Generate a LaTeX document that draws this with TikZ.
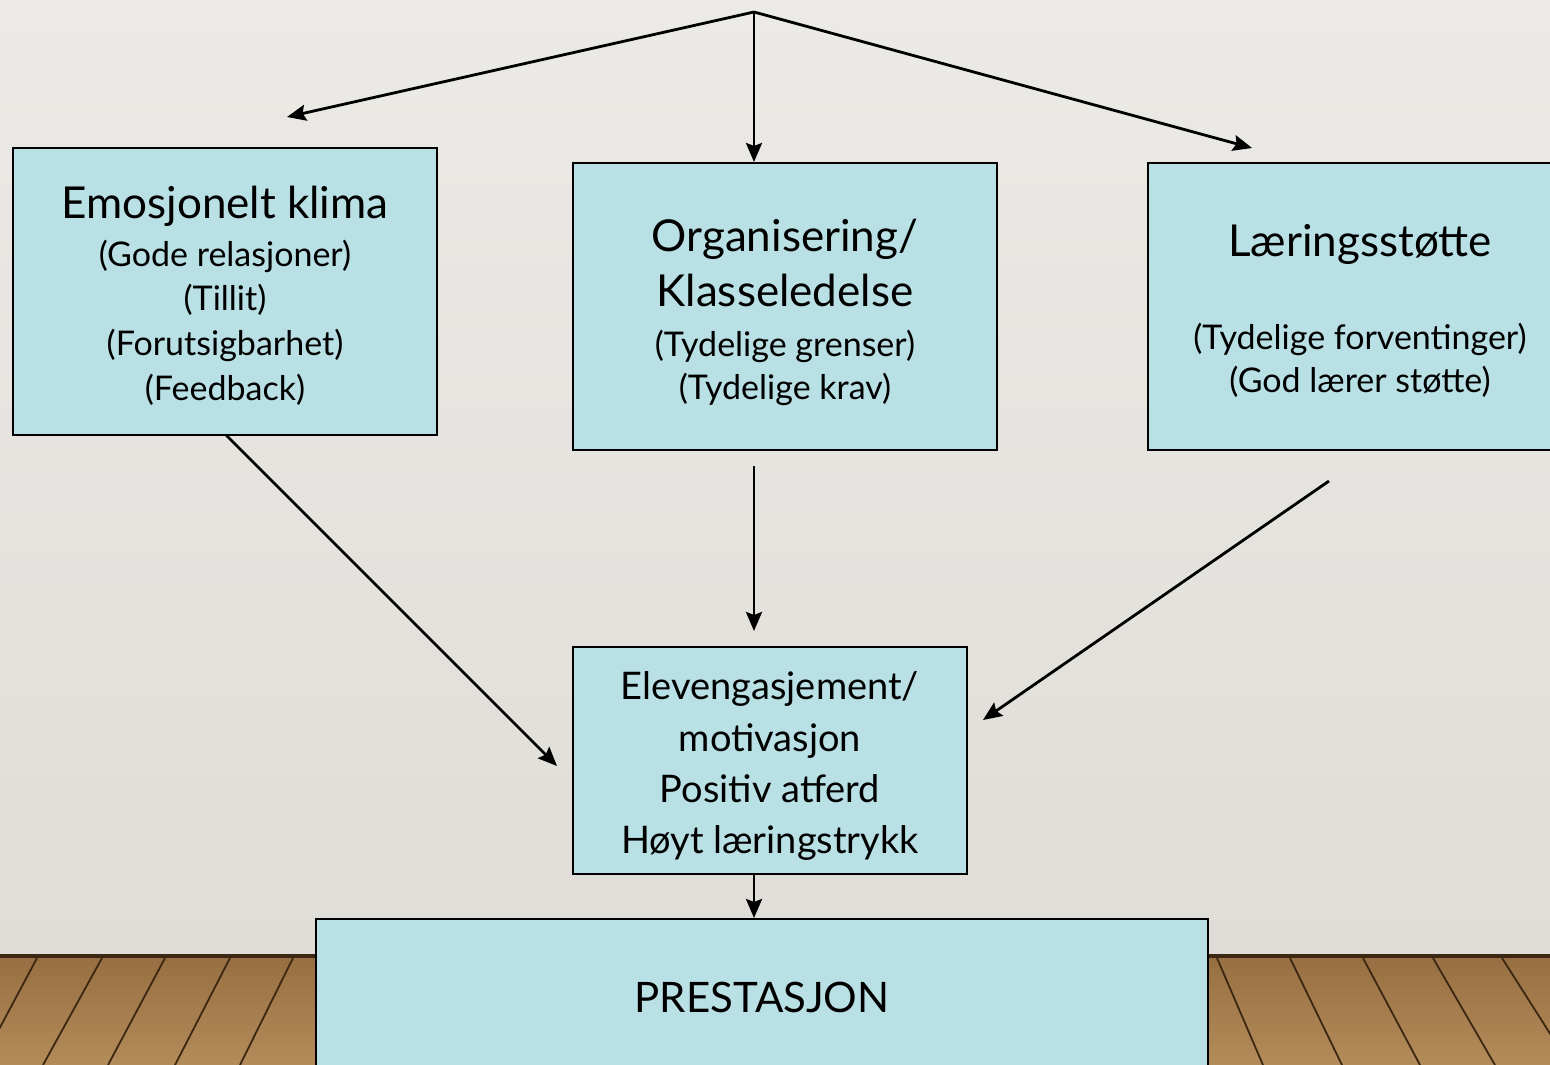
\documentclass[tikz,border=0pt]{standalone}
\usepackage{fontspec}
\setmainfont{Lato}
\usetikzlibrary{arrows.meta}
\definecolor{wallA}{RGB}{235,234,230}
\definecolor{wallB}{RGB}{224,221,216}
\definecolor{boxfill}{RGB}{185,224,228}
\definecolor{woodA}{RGB}{180,140,90}
\definecolor{woodB}{RGB}{150,110,65}
\definecolor{plank}{RGB}{60,40,18}
\tikzset{
  box/.style={draw=black, line width=1.5pt, fill=boxfill, inner sep=0pt},
  arr/.style={line width=2.8pt, -{Stealth[length=19pt,width=16pt,inset=3pt]}},
  big/.style={anchor=base, inner sep=0pt, font=\fontsize{44}{52}\selectfont},
  mid/.style={anchor=base, inner sep=0pt, font=\fontsize{38}{45}\selectfont},
  pbig/.style={anchor=base, inner sep=0pt, font=\fontsize{42}{50}\selectfont},
  sub/.style={anchor=base, inner sep=0pt, font=\fontsize{34}{40}\selectfont},
  plankline/.style={draw=plank, line width=1.8pt},
}
\begin{document}
\begin{tikzpicture}[x=1pt,y=-1pt]
\useasboundingbox (0,0) rectangle (1550,1065);
% wall
\shade[top color=wallA, bottom color=wallB] (0,0) rectangle (1550,955);
% floor
\shade[top color=woodB, bottom color=woodA] (0,955) rectangle (1550,1065);
\fill[plank] (0,954) rectangle (1550,958);
\foreach \a/\b in {37/-20,102/43,165/108,230/175,293/240}{
  \draw[plankline] (\a,958) -- (\b,1065);}
\foreach \a/\b in {1217/1263,1290/1342,1363/1420,1433/1495,1502/1570}{
  \draw[plankline] (\a,958) -- (\b,1065);}

% boxes
\node[box, minimum width=424pt, minimum height=287pt] (emo) at (225,291.5) {};
\node[box, minimum width=424pt, minimum height=287pt] (org) at (785,306.5) {};
\node[box, minimum width=420pt, minimum height=287pt] (lae) at (1358,306.5) {};
\node[box, minimum width=394pt, minimum height=227pt] (elev) at (770,760.5) {};
\node[box, minimum width=892pt, minimum height=160pt] (pres) at (762,999) {};

% texts
\node[big] (t1) at (225,218) {Emosjonelt klima};
\node[sub] (t2) at (225,266) {(Gode relasjoner)};
\node[sub] (t3) at (225,310) {(Tillit)};
\node[sub] (t4) at (225,355) {(Forutsigbarhet)};
\node[sub] (t5) at (225,400) {(Feedback)};

\node[big] (o1) at (785,251) {Organisering/};
\node[big] (o2) at (785,306) {Klasseledelse};
\node[sub] (o3) at (785,356) {(Tydelige grenser)};
\node[sub] (o4) at (785,399) {(Tydelige krav)};

\node[big] (l1) at (1360,256) {Læringsstøtte};
\node[sub] (l2) at (1360,349) {(Tydelige forventinger)};
\node[sub] (l3) at (1360,392) {(God lærer støtte)};

\node[mid] (e1) at (770,699) {Elevengasjement/};
\node[mid] (e2) at (770,751) {motivasjon};
\node[mid] (e3) at (770,802) {Positiv atferd};
\node[mid] (e4) at (770,853) {Høyt læringstrykk};

\node[pbig] (p1) at (762,1012) {PRESTASJON};

% connector points
\coordinate (top) at (754,12);
\coordinate (aL) at (287,117);
\coordinate (aM) at (754,162);
\coordinate (aR) at (1252,148);
\coordinate (s1) at (226,435);
\coordinate (e1end) at (557,766);
\coordinate (s2) at (754,466);
\coordinate (e2end) at (754,631);
\coordinate (s3) at (1329,481);
\coordinate (e3end) at (983,720);
\coordinate (e5end) at (754,918);

\draw[arr] (top) -- (aL);
\draw[arr] (top) -- (aM);
\draw[arr] (top) -- (aR);
\draw[arr] (s1) -- (e1end);
\draw[arr] (s2) -- (e2end);
\draw[arr] (s3) -- (e3end);
\draw[arr] (elev.south -| top) -- (e5end);
\end{tikzpicture}
\end{document}
